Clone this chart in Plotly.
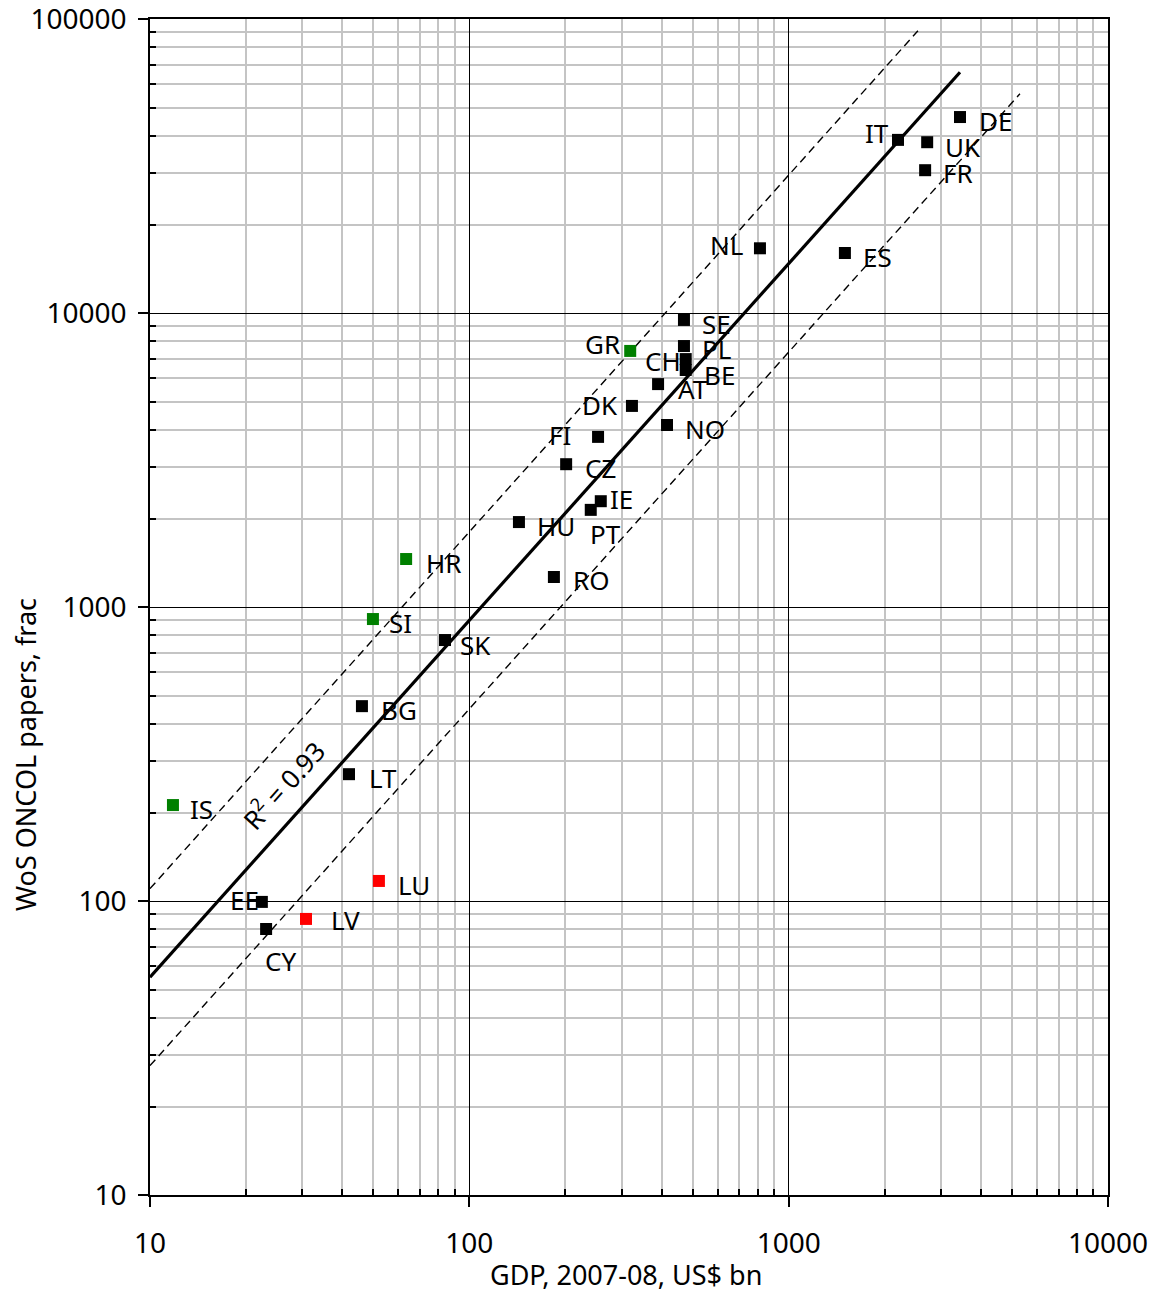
import numpy as np
import plotly.graph_objects as go

# ---- data ----
countries = ["DE", "IT", "UK", "FR", "NL", "ES", "SE", "PL", "CH", "BE", "AT", "GR", "DK", "NO",
             "FI", "CZ", "IE", "PT", "HU", "RO", "HR", "SI", "SK", "BG", "LT", "IS", "LU", "EE",
             "LV", "CY"]
gdp = [3440, 2200, 2715, 2675, 813, 1500, 470, 470, 476, 476, 390, 319, 323, 416,
       253, 201, 258, 240, 143, 184, 63.4, 49.9, 83.9, 46.1, 42.0, 11.8, 52.1, 22.4,
       30.8, 23.1]
papers = [46400, 38800, 38100, 30600, 16600, 16000, 9470, 7720, 6970, 6400, 5730, 7430, 4830, 4160,
          3790, 3060, 2290, 2140, 1945, 1265, 1456, 910, 772, 460, 270, 212, 117, 99.3,
          86.9, 80.3]
group = ["k", "k", "k", "k", "k", "k", "k", "k", "k", "k", "k", "g", "k", "k",
         "k", "k", "k", "k", "k", "k", "g", "g", "k", "k", "k", "g", "r", "k",
         "r", "k"]

# power-law trend  y = a * x^b, with bands at x2 and x0.5
fit_a = 3.37
fit_b = 1.2134
fit_x_range = [10, 3440]
upper_factor, upper_x_range = 2.0, [10, 2540]
lower_factor, lower_x_range = 0.5, [10, 5300]
r2_text = "R<sup>2</sup> = 0.93"

x_tick_vals = [10, 100, 1000, 10000]
y_tick_vals = [10, 100, 1000, 10000, 100000]
x_title = "GDP, 2007-08, US$ bn"
y_title = "WoS ONCOL papers, frac"

# ---- styling / layout helpers ----
colors = {"k": "#000000", "g": "#008000", "r": "#ff0000"}
label_offsets = {  # pixel offsets (dx, dy down-positive) of label centre from marker
    "DE": (35, 4), "IT": (-21, -7), "UK": (36, 5), "FR": (33, 3), "NL": (-33, -3),
    "ES": (33, 4), "SE": (33, 4), "PL": (33, 3), "CH": (-23, 2), "BE": (34, 5),
    "AT": (35, 5), "GR": (-28, -7), "DK": (-32, -1), "NO": (38, 4), "FI": (-38, -2),
    "CZ": (34, 4), "IE": (21, -2), "PT": (15, 24), "HU": (37, 4), "RO": (37, 3),
    "HR": (37, 4), "SI": (28, 4), "SK": (31, 5), "BG": (37, 4), "LT": (34, 4),
    "IS": (29, 4), "LU": (35, 4), "EE": (-17, -2), "LV": (39, 1), "CY": (14, 32),
}

FONT = "Noto Sans"
TICK_SIZE = 28
LABEL_SIZE = 26
TITLE_SIZE = 27

def minor_vals(lo_exp, hi_exp):
    out = []
    for e in range(lo_exp, hi_exp):
        for m in range(2, 10):
            out.append(m * 10 ** e)
    return out

fig = go.Figure()

def power_line(factor, xr, n=200):
    xs = np.logspace(np.log10(xr[0]), np.log10(xr[1]), n)
    return xs, factor * fit_a * xs ** fit_b

for fac, xr in [(upper_factor, upper_x_range), (lower_factor, lower_x_range)]:
    xs, ys = power_line(fac, xr)
    fig.add_trace(go.Scatter(x=xs, y=ys, mode="lines",
                             line=dict(color="black", width=1.4, dash="8px,5px"),
                             hoverinfo="skip", showlegend=False))
xs, ys = power_line(1.0, fit_x_range)
fig.add_trace(go.Scatter(x=xs, y=ys, mode="lines", line=dict(color="black", width=3.2),
                         hoverinfo="skip", showlegend=False))

fig.add_trace(go.Scatter(
    x=gdp, y=papers, mode="markers", text=countries,
    marker=dict(symbol="square", size=12, color=[colors[g] for g in group], line=dict(width=0)),
    showlegend=False))

for c, xv, yv in zip(countries, gdp, papers):
    dx, dy = label_offsets[c]
    fig.add_annotation(x=np.log10(xv), y=np.log10(yv), text=c, showarrow=False,
                       xshift=dx, yshift=-dy, font=dict(family=FONT, size=LABEL_SIZE, color="black"))

fig.add_annotation(x=np.log10(26.1), y=np.log10(248), text=r2_text, showarrow=False,
                   textangle=-48, font=dict(family=FONT, size=LABEL_SIZE, color="black"))

# axis titles as paper annotations
fig.add_annotation(xref="paper", yref="paper", x=0.497, y=-0.068, text=x_title, showarrow=False,
                   xanchor="center", yanchor="middle",
                   font=dict(family=FONT, size=TITLE_SIZE, color="black"))
fig.add_annotation(xref="paper", yref="paper", x=-0.1305, y=0.375, text=y_title, showarrow=False,
                   textangle=-90, xanchor="center", yanchor="middle",
                   font=dict(family=FONT, size=TITLE_SIZE, color="black"))

axis_common = dict(
    type="log", showline=True, linecolor="black", linewidth=1.5, mirror=True,
    showgrid=True, gridcolor="black", gridwidth=1.3, zeroline=False, automargin=False,
    ticks="outside", ticklen=10, tickcolor="black", tickwidth=1.5,
    ticklabeloverflow="allow",
    tickfont=dict(family=FONT, size=TICK_SIZE, color="black"),
)

fig.update_xaxes(
    range=[1, 4], tickmode="array", tickvals=x_tick_vals, ticktext=[str(v) for v in x_tick_vals],
    ticklabelstandoff=13,
    minor=dict(tickmode="array", tickvals=minor_vals(1, 4), showgrid=True, gridcolor="#c4c4c4",
               gridwidth=1.6, ticks="inside", ticklen=6, tickcolor="black", tickwidth=1.5),
    **axis_common)
fig.update_yaxes(
    range=[1, 5], tickmode="array", tickvals=y_tick_vals, ticktext=[str(v) for v in y_tick_vals],
    ticklabelstandoff=6,
    minor=dict(tickmode="array", tickvals=minor_vals(1, 5), showgrid=True, gridcolor="#c4c4c4",
               gridwidth=1.6, ticks="inside", ticklen=6, tickcolor="black", tickwidth=1.5),
    **axis_common)

fig.update_layout(
    width=1152, height=1291,
    margin=dict(l=150, r=44, t=19, b=96),
    plot_bgcolor="white", paper_bgcolor="white",
    font=dict(family=FONT, color="black"),
)

fig.write_html("out.html", config={"displayModeBar": False},
               post_script="document.body.style.margin='0';document.body.style.overflow='hidden';")
